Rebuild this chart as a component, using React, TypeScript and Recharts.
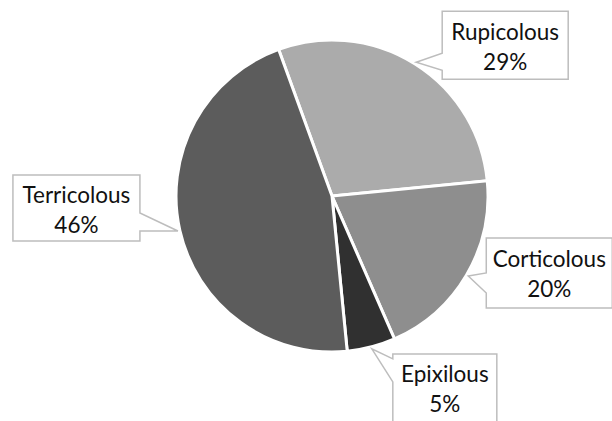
import React from "react";
import { PieChart, Pie, Cell } from "recharts";

const categories = ["Rupicolous", "Corticolous", "Epixilous", "Terricolous"];
const shares = [29, 20, 5, 46];
const colors = ["#ababab", "#8e8e8e", "#303030", "#5c5c5c"];

// callout box placement relative to the pointer tip
const callouts = [
  { dx: 26, dy: -51, w: 126, h: 68, side: "left", b1: 42, b2: 59 },
  { dx: 18, dy: -38, w: 126, h: 70, side: "left", b1: 35, b2: 55 },
  { dx: 21, dy: 5, w: 104, h: 68, side: "left", b1: 5, b2: 28 },
  { dx: -38, dy: -56, w: 127, h: 66, side: "right", b1: 38, b2: 56 },
];

const data = categories.map((name, i) => ({ name, value: shares[i] }));

const RAD = Math.PI / 180;
const FONT = "Lato, 'Open Sans', sans-serif";

function Callout(props: any) {
  const { cx, cy, midAngle, outerRadius, index, name, value } = props;
  const c = callouts[index];
  const tx = cx + (outerRadius + 2) * Math.cos(-midAngle * RAD);
  const ty = cy + (outerRadius + 2) * Math.sin(-midAngle * RAD);
  const x = c.side === "left" ? tx + c.dx : tx + c.dx - c.w;
  const y = ty + c.dy;
  let d: string;
  if (c.side === "left") {
    d = `M${x},${y} H${x + c.w} V${y + c.h} H${x} V${y + c.b2} L${tx},${ty} L${x},${y + c.b1} Z`;
  } else {
    d = `M${x},${y} H${x + c.w} V${y + c.b1} L${tx},${ty} L${x + c.w},${y + c.b2} V${y + c.h} H${x} Z`;
  }
  const mx = x + c.w / 2;
  const my = y + c.h / 2;
  return (
    <g>
      <path d={d} fill="#ffffff" stroke="#bdbdbd" strokeWidth={1.5} />
      <text x={mx} y={my - 14} textAnchor="middle" dominantBaseline="central" fill="#111" fontSize={22.5} fontFamily={FONT}>
        {name}
      </text>
      <text x={mx} y={my + 16} textAnchor="middle" dominantBaseline="central" fill="#111" fontSize={22.5} fontFamily={FONT}>
        {value}%
      </text>
    </g>
  );
}

export default function App() {
  return (
    <div style={{ position: "absolute", left: 0, top: 0, background: "#fff" }}>
      <PieChart width={612} height={421} margin={{ top: 0, right: 0, bottom: 0, left: 0 }}>
        <Pie
          data={data}
          dataKey="value"
          nameKey="name"
          cx={332}
          cy={196}
          outerRadius={156}
          startAngle={110}
          endAngle={-250}
          stroke="#ffffff"
          strokeWidth={3}
          label={Callout}
          labelLine={false}
          isAnimationActive={false}
        >
          {data.map((d, i) => (
            <Cell key={d.name} fill={colors[i]} />
          ))}
        </Pie>
      </PieChart>
    </div>
  );
}
